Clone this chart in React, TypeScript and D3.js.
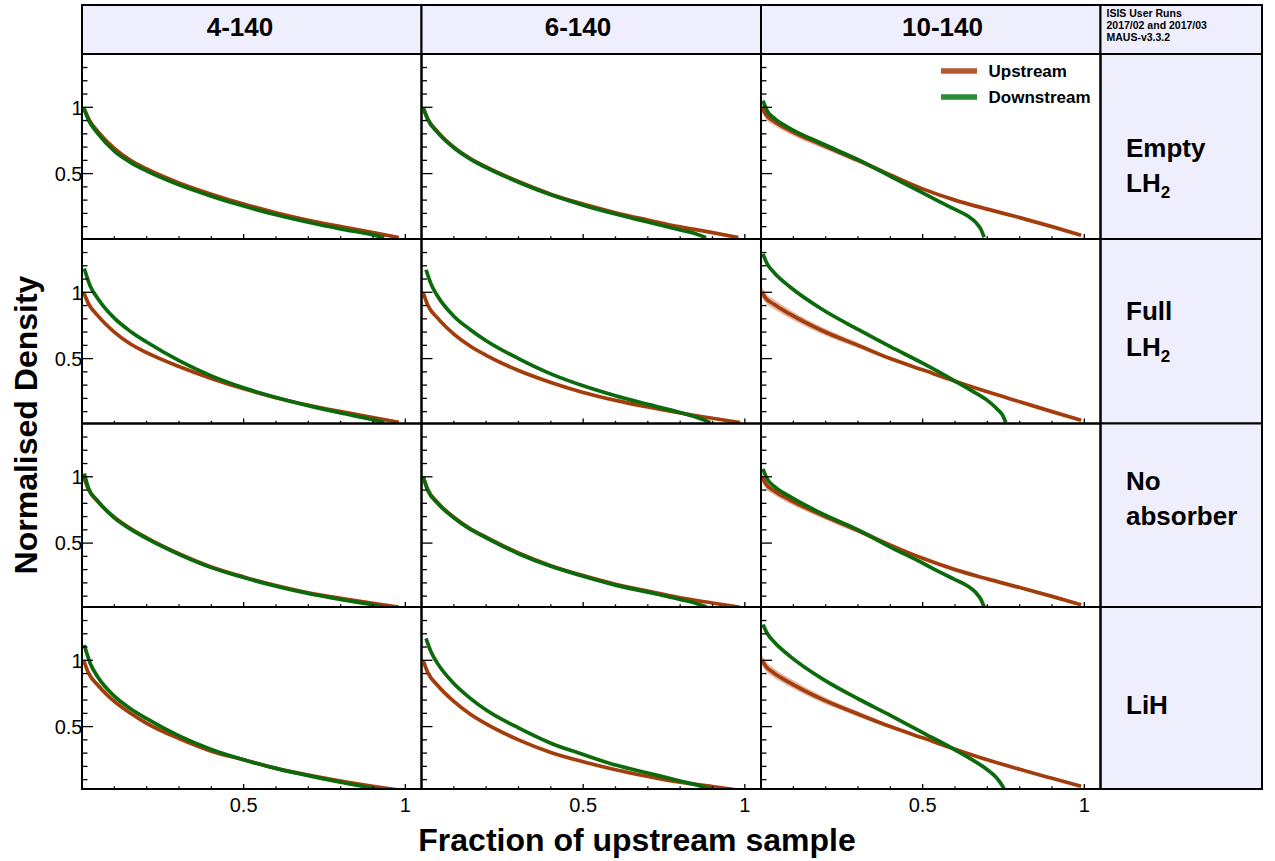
import React from "react";
import * as d3 from "d3";

// ---------------- data ----------------
const columnLabels = ["4-140", "6-140", "10-140"];
const rowLabels: [string, string][][] = [
  [["Empty", ""], ["LH", "2"]],
  [["Full", ""], ["LH", "2"]],
  [["No", ""], ["absorber", ""]],
  [["LiH", ""]],
];
const seriesNames = ["Upstream", "Downstream"];
const infoLines = ["ISIS User Runs", "2017/02 and 2017/03", "MAUS-v3.3.2"];
const xTickLabels = [0.5, 1];
const yTickLabels = [0.5, 1];
const xTitle = "Fraction of upstream sample";
const yTitle = "Normalised Density";

type U = [number, number, number]; // x, density, band half-width
type D = [number, number];

// ---- 4-140 ----
const up_4_EmptyLH2: U[] = [[0.005,1.0,0.01],[0.02,0.915,0.01],[0.05,0.815,0.01],[0.1,0.69,0.008],[0.15,0.6,0.007],[0.2,0.535,0.006],[0.3,0.43,0.005],[0.4,0.345,0.004],[0.5,0.27,0.003],[0.6,0.205,0.002],[0.7,0.148,0.002],[0.8,0.1,0.001],[0.9,0.055,0.001],[0.98,0.018,0]];
const down_4_EmptyLH2: D[] = [[0.005,1.0],[0.02,0.905],[0.05,0.8],[0.1,0.67],[0.15,0.585],[0.2,0.52],[0.3,0.415],[0.4,0.33],[0.5,0.255],[0.6,0.19],[0.7,0.133],[0.8,0.083],[0.9,0.038],[0.935,0.018]];
const up_4_FullLH2: U[] = [[0.005,1.0,0.012],[0.02,0.915,0.012],[0.05,0.82,0.011],[0.1,0.7,0.01],[0.15,0.61,0.009],[0.2,0.545,0.008],[0.3,0.44,0.006],[0.4,0.35,0.005],[0.5,0.272,0.004],[0.6,0.205,0.003],[0.7,0.148,0.002],[0.8,0.1,0.002],[0.9,0.055,0.001],[0.98,0.02,0]];
const down_4_FullLH2: D[] = [[0.007,1.18],[0.025,1.05],[0.05,0.95],[0.1,0.805],[0.15,0.705],[0.2,0.625],[0.3,0.485],[0.4,0.37],[0.5,0.28],[0.6,0.207],[0.7,0.145],[0.8,0.09],[0.9,0.04],[0.935,0.018]];
const up_4_NoAbs: U[] = [[0.005,1.0,0.008],[0.02,0.905,0.008],[0.05,0.81,0.007],[0.1,0.695,0.006],[0.15,0.61,0.005],[0.2,0.54,0.005],[0.3,0.42,0.004],[0.4,0.32,0.003],[0.5,0.245,0.003],[0.6,0.18,0.002],[0.7,0.125,0.002],[0.8,0.083,0.001],[0.9,0.045,0.001],[0.98,0.017,0]];
const down_4_NoAbs: D[] = [[0.007,1.025],[0.02,0.915],[0.05,0.815],[0.1,0.69],[0.15,0.605],[0.2,0.535],[0.3,0.415],[0.4,0.315],[0.5,0.24],[0.6,0.175],[0.7,0.12],[0.8,0.075],[0.9,0.035],[0.935,0.017]];
const up_4_LiH: U[] = [[0.005,1.0,0.012],[0.02,0.905,0.012],[0.05,0.81,0.011],[0.1,0.69,0.01],[0.15,0.6,0.009],[0.2,0.525,0.008],[0.3,0.41,0.006],[0.4,0.315,0.005],[0.5,0.25,0.004],[0.6,0.185,0.003],[0.7,0.135,0.002],[0.8,0.09,0.002],[0.9,0.05,0.001],[0.98,0.022,0]];
const down_4_LiH: D[] = [[0.007,1.115],[0.025,0.98],[0.05,0.87],[0.1,0.73],[0.15,0.635],[0.2,0.56],[0.3,0.43],[0.4,0.328],[0.5,0.25],[0.6,0.185],[0.7,0.13],[0.8,0.08],[0.9,0.035],[0.94,0.017]];

// ---- 6-140 ----
const up_6_EmptyLH2: U[] = [[0.005,1.0,0.008],[0.02,0.91,0.008],[0.05,0.815,0.007],[0.1,0.7,0.006],[0.15,0.615,0.005],[0.2,0.55,0.005],[0.3,0.44,0.004],[0.4,0.345,0.003],[0.5,0.27,0.003],[0.6,0.205,0.002],[0.7,0.15,0.002],[0.8,0.098,0.001],[0.9,0.055,0.001],[0.98,0.018,0]];
const down_6_EmptyLH2: D[] = [[0.005,1.0],[0.02,0.905],[0.05,0.81],[0.1,0.695],[0.15,0.61],[0.2,0.545],[0.3,0.435],[0.4,0.34],[0.5,0.262],[0.6,0.195],[0.7,0.135],[0.8,0.075],[0.85,0.045],[0.88,0.017]];
const up_6_FullLH2: U[] = [[0.005,1.0,0.012],[0.02,0.9,0.012],[0.05,0.805,0.011],[0.1,0.685,0.01],[0.15,0.595,0.009],[0.2,0.525,0.008],[0.3,0.41,0.006],[0.4,0.32,0.005],[0.5,0.245,0.004],[0.6,0.185,0.003],[0.7,0.135,0.002],[0.8,0.09,0.002],[0.9,0.05,0.001],[0.985,0.018,0]];
const down_6_FullLH2: D[] = [[0.014,1.17],[0.03,1.06],[0.05,0.97],[0.1,0.82],[0.15,0.72],[0.2,0.635],[0.3,0.5],[0.4,0.385],[0.5,0.295],[0.6,0.22],[0.7,0.155],[0.8,0.093],[0.86,0.05],[0.893,0.017]];
const up_6_NoAbs: U[] = [[0.005,1.0,0.008],[0.02,0.9,0.008],[0.05,0.805,0.007],[0.1,0.695,0.006],[0.15,0.61,0.005],[0.2,0.545,0.005],[0.3,0.425,0.004],[0.4,0.33,0.003],[0.5,0.255,0.003],[0.6,0.19,0.002],[0.7,0.138,0.002],[0.8,0.088,0.001],[0.9,0.048,0.001],[0.983,0.017,0]];
const down_6_NoAbs: D[] = [[0.005,1.0],[0.02,0.895],[0.05,0.8],[0.1,0.69],[0.15,0.605],[0.2,0.54],[0.3,0.42],[0.4,0.325],[0.5,0.25],[0.6,0.183],[0.7,0.13],[0.8,0.075],[0.85,0.045],[0.883,0.017]];
const up_6_LiH: U[] = [[0.005,1.0,0.012],[0.02,0.905,0.012],[0.05,0.81,0.011],[0.1,0.69,0.01],[0.15,0.595,0.009],[0.2,0.52,0.008],[0.3,0.4,0.006],[0.4,0.305,0.005],[0.5,0.235,0.004],[0.6,0.175,0.003],[0.7,0.125,0.002],[0.8,0.08,0.002],[0.9,0.048,0.001],[0.985,0.018,0]];
const down_6_LiH: D[] = [[0.014,1.165],[0.03,1.06],[0.05,0.975],[0.1,0.825],[0.15,0.715],[0.2,0.625],[0.3,0.49],[0.4,0.375],[0.5,0.29],[0.6,0.21],[0.7,0.15],[0.8,0.09],[0.88,0.04],[0.908,0.017]];

// ---- 10-140 ----
const up_10_EmptyLH2: U[] = [[0.003,1.0,0.035],[0.015,0.945,0.033],[0.04,0.895,0.03],[0.09,0.825,0.028],[0.19,0.715,0.024],[0.3,0.6,0.02],[0.4,0.49,0.015],[0.5,0.385,0.01],[0.6,0.3,0.006],[0.7,0.232,0.004],[0.8,0.168,0.003],[0.9,0.1,0.002],[0.99,0.035,0]];
const down_10_EmptyLH2: D[] = [[0.006,1.05],[0.02,0.97],[0.04,0.92],[0.09,0.84],[0.19,0.725],[0.3,0.605],[0.4,0.48],[0.5,0.355],[0.55,0.29],[0.6,0.23],[0.64,0.18],[0.665,0.13],[0.68,0.08],[0.69,0.02]];
const up_10_FullLH2: U[] = [[0.003,1.0,0.04],[0.015,0.955,0.038],[0.04,0.91,0.035],[0.09,0.835,0.032],[0.19,0.71,0.026],[0.3,0.6,0.02],[0.4,0.5,0.014],[0.5,0.415,0.009],[0.6,0.33,0.006],[0.7,0.25,0.004],[0.8,0.175,0.003],[0.9,0.1,0.002],[0.99,0.035,0]];
const down_10_FullLH2: D[] = [[0.006,1.29],[0.02,1.21],[0.04,1.15],[0.09,1.04],[0.19,0.87],[0.3,0.72],[0.4,0.59],[0.5,0.465],[0.6,0.33],[0.65,0.26],[0.7,0.185],[0.73,0.12],[0.75,0.06],[0.757,0.018]];
const up_10_NoAbs: U[] = [[0.003,1.0,0.035],[0.015,0.945,0.033],[0.04,0.895,0.03],[0.09,0.825,0.028],[0.19,0.71,0.024],[0.3,0.595,0.02],[0.4,0.485,0.015],[0.5,0.385,0.01],[0.6,0.3,0.006],[0.7,0.23,0.004],[0.8,0.165,0.003],[0.9,0.098,0.002],[0.99,0.035,0]];
const down_10_NoAbs: D[] = [[0.006,1.06],[0.02,0.98],[0.04,0.93],[0.09,0.85],[0.19,0.72],[0.3,0.6],[0.4,0.47],[0.5,0.35],[0.55,0.285],[0.6,0.225],[0.64,0.175],[0.665,0.125],[0.68,0.075],[0.69,0.018]];
const up_10_LiH: U[] = [[0.003,1.0,0.04],[0.015,0.955,0.038],[0.04,0.905,0.035],[0.09,0.83,0.032],[0.19,0.705,0.026],[0.3,0.595,0.02],[0.4,0.5,0.014],[0.5,0.415,0.009],[0.6,0.33,0.006],[0.7,0.25,0.004],[0.8,0.178,0.003],[0.9,0.11,0.002],[0.99,0.05,0]];
const down_10_LiH: D[] = [[0.006,1.27],[0.02,1.2],[0.04,1.14],[0.09,1.03],[0.19,0.86],[0.3,0.71],[0.4,0.585],[0.5,0.455],[0.6,0.325],[0.65,0.255],[0.7,0.175],[0.73,0.11],[0.745,0.06],[0.752,0.03]];

const panels = [
  [{ up: up_4_EmptyLH2, down: down_4_EmptyLH2 }, { up: up_6_EmptyLH2, down: down_6_EmptyLH2 }, { up: up_10_EmptyLH2, down: down_10_EmptyLH2 }],
  [{ up: up_4_FullLH2, down: down_4_FullLH2 }, { up: up_6_FullLH2, down: down_6_FullLH2 }, { up: up_10_FullLH2, down: down_10_FullLH2 }],
  [{ up: up_4_NoAbs, down: down_4_NoAbs }, { up: up_6_NoAbs, down: down_6_NoAbs }, { up: up_10_NoAbs, down: down_10_NoAbs }],
  [{ up: up_4_LiH, down: down_4_LiH }, { up: up_6_LiH, down: down_6_LiH }, { up: up_10_LiH, down: down_10_LiH }],
];

// ---------------- layout / style ----------------
const W = 1275, H = 861;
const FONT = "'Liberation Sans', Arial, Helvetica, sans-serif";
const colX = [82, 421.5, 761, 1100.5];
const rightEdge = 1262;
const topY = 5;
const rowY = [54, 239, 423.5, 607, 789];
const headerCx = [240, 578, 942.5];
const rowLabelY = [[157, 192], [320, 356], [490, 525], [714]];
const UP = "#a33d0b";
const DOWN = "#0b6a0b";
const BAND = "#c7714a";
const UP_LEG = "#b45a32";
const DOWN_LEG = "#2a8a36";
const LAV = "#eeeefc";

const xTicks = d3.range(1, 11).map((i) => i / 10);
const yTicks = d3.range(1, 14).map((i) => i / 10);
const isMajor = (v: number) => Math.abs(v - 0.5) < 1e-6 || Math.abs(v - 1) < 1e-6;

export default function App() {
  const cells: React.ReactNode[] = [];
  panels.forEach((row, r) => {
    row.forEach((p, c) => {
      const x0 = colX[c], x1 = colX[c + 1];
      const y0 = rowY[r], y1 = rowY[r + 1];
      const xs = d3.scaleLinear().domain([0, 1.05]).range([x0, x1]);
      const ys = d3.scaleLinear().domain([0.5, 1]).range([y0 + 119.6, y0 + 53.3]);
      const area = d3
        .area<U>()
        .x((d) => xs(d[0]))
        .y0((d) => ys(d[1] - d[2]))
        .y1((d) => ys(d[1] + d[2]))
        .curve(d3.curveMonotoneX);
      const lineU = d3.line<U>().x((d) => xs(d[0])).y((d) => ys(d[1])).curve(d3.curveMonotoneX);
      const lineD = d3.line<D>().x((d) => xs(d[0])).y((d) => ys(d[1])).curve(d3.curveMonotoneX);
      const id = `clip-${r}-${c}`;
      cells.push(
        <g key={id}>
          <defs>
            <clipPath id={id}>
              <rect x={x0} y={y0} width={x1 - x0} height={y1 - y0} />
            </clipPath>
          </defs>
          <g clipPath={`url(#${id})`}>
            <path d={area(p.up) || ""} fill={BAND} fillOpacity={0.5} />
            <path d={lineU(p.up) || ""} fill="none" stroke={UP} strokeWidth={3.7} />
            <path d={lineD(p.down) || ""} fill="none" stroke={DOWN} strokeWidth={3.7} />
          </g>
          {yTicks.map((v) => (
            <line key={`yt${v}`} x1={x0} x2={x0 + (isMajor(v) ? 11 : 5.5)} y1={ys(v)} y2={ys(v)} stroke="#000" strokeWidth={1.3} />
          ))}
          {xTicks.map((v) => (
            <line key={`xt${v}`} x1={xs(v)} x2={xs(v)} y1={y1} y2={y1 - (isMajor(v) ? 5 : 2.7)} stroke="#000" strokeWidth={1.3} />
          ))}
          <rect x={x0} y={y0} width={x1 - x0} height={y1 - y0} fill="none" stroke="#000" strokeWidth={2} />
          {c === 0 &&
            yTickLabels.map((v) => (
              <text key={`yl${v}`} x={x0 + 0.5} y={ys(v) + 7.2} textAnchor="end" fontSize={20} fontFamily={FONT} fill="#000">
                {String(v)}
              </text>
            ))}
          {r === 3 &&
            xTickLabels.map((v) => (
              <text key={`xl${v}`} x={xs(v)} y={812} textAnchor="middle" fontSize={20} fontFamily={FONT} fill="#000">
                {String(v)}
              </text>
            ))}
        </g>
      );
    });
  });

  const legend = (
    <g>
      {seriesNames.map((s, i) => (
        <g key={s}>
          <line x1={941} x2={977} y1={71 + i * 26} y2={71 + i * 26} stroke={i === 0 ? UP_LEG : DOWN_LEG} strokeWidth={5.5} />
          <text x={988.5} y={77 + i * 26.3} fontSize={17} fontWeight="bold" fontFamily={FONT} fill="#000">
            {s}
          </text>
        </g>
      ))}
    </g>
  );

  return (
    <svg width={W} height={H} style={{ position: "absolute", left: 0, top: 0, background: "#fff" }}>
      <rect x={0} y={0} width={W} height={H} fill="#fff" />
      {columnLabels.map((lab, c) => (
        <g key={lab}>
          <rect x={colX[c]} y={topY} width={colX[c + 1] - colX[c]} height={rowY[0] - topY} fill={LAV} stroke="#000" strokeWidth={2} />
          <text x={headerCx[c]} y={35.5} textAnchor="middle" fontSize={26} fontWeight="bold" fontFamily={FONT} fill="#000">
            {lab}
          </text>
        </g>
      ))}
      <rect x={colX[3]} y={topY} width={rightEdge - colX[3]} height={rowY[0] - topY} fill={LAV} stroke="#000" strokeWidth={2} />
      {infoLines.map((t, i) => (
        <text key={t} x={1106.5} y={16.7 + i * 12} fontSize={10.5} fontWeight="bold" fontFamily={FONT} fill="#000">
          {t}
        </text>
      ))}
      {rowLabels.map((lines, r) => (
        <g key={`rl${r}`}>
          <rect x={colX[3]} y={rowY[r]} width={rightEdge - colX[3]} height={rowY[r + 1] - rowY[r]} fill={LAV} stroke="#000" strokeWidth={2} />
          {lines.map(([main, sub], i) => (
            <text key={main} x={1126} y={rowLabelY[r][i]} fontSize={26} fontWeight="bold" fontFamily={FONT} fill="#000">
              {main}
              {sub && (
                <tspan dy={6} fontSize={17}>
                  {sub}
                </tspan>
              )}
            </text>
          ))}
        </g>
      ))}
      {cells}
      {legend}
      <text x={637} y={851} textAnchor="middle" fontSize={32} fontWeight="bold" fontFamily={FONT} fill="#000">
        {xTitle}
      </text>
      <text transform="translate(37,425) rotate(-90)" textAnchor="middle" fontSize={32} fontWeight="bold" fontFamily={FONT} fill="#000">
        {yTitle}
      </text>
    </svg>
  );
}
